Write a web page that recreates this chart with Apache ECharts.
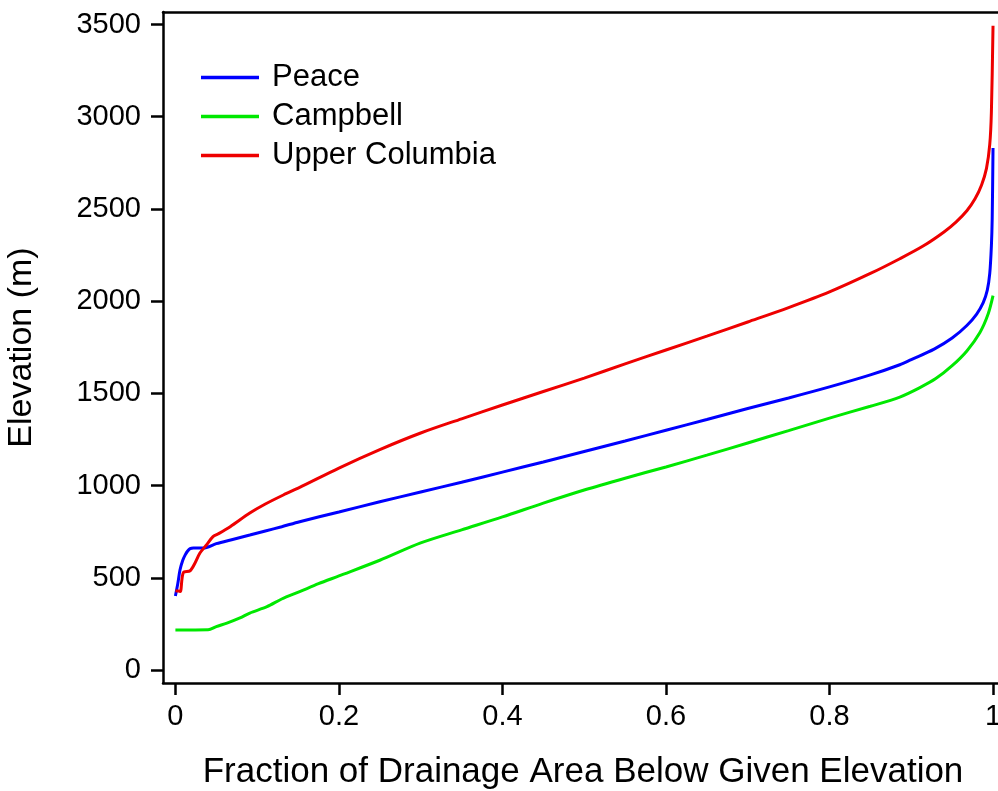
<!DOCTYPE html>
<html>
<head>
<meta charset="utf-8">
<script src="https://cdn.jsdelivr.net/npm/echarts@6/dist/echarts.min.js"></script>
<style>
html,body{margin:0;padding:0;background:#fff;}
#chart{width:998px;height:791px;}
</style>
</head>
<body>
<div id="chart"></div>
<script>
// Tick labels
const xTicks = [0, 0.2, 0.4, 0.6, 0.8, 1];
const yTicks = [0, 500, 1000, 1500, 2000, 2500, 3000, 3500];

// Series names
const seriesNames = ['Peace', 'Campbell', 'Upper Columbia'];

// Peace (blue): fraction / elevation
const peaceX = [0, 0.003, 0.0056, 0.009, 0.012, 0.015, 0.018, 0.022, 0.034, 0.05, 0.07, 0.091, 0.11, 0.13, 0.152, 0.2, 0.25, 0.3, 0.35, 0.4, 0.45, 0.5, 0.55, 0.6, 0.65, 0.7, 0.75, 0.8, 0.85, 0.886, 0.9, 0.928, 0.95, 0.968, 0.98, 0.988, 0.993, 0.996, 0.998, 0.999, 1.0];
const peaceY = [401, 470, 542, 595, 624, 645, 658, 661, 661, 685, 708, 732, 754, 777, 804, 857, 912, 965, 1018, 1073, 1128, 1185, 1242, 1300, 1358, 1418, 1475, 1535, 1600, 1655, 1683, 1740, 1800, 1868, 1930, 1992, 2060, 2150, 2300, 2450, 2830];

// Campbell (green)
const campbellX = [0, 0.04, 0.05, 0.063, 0.079, 0.091, 0.112, 0.13, 0.152, 0.175, 0.2, 0.25, 0.3, 0.35, 0.4, 0.45, 0.5, 0.55, 0.6, 0.65, 0.7, 0.75, 0.8, 0.85, 0.886, 0.91, 0.93, 0.95, 0.968, 0.984, 0.994, 1.0];
const campbellY = [217, 218, 235, 254, 282, 309, 343, 385, 425, 468, 510, 595, 689, 760, 830, 905, 976, 1040, 1101, 1165, 1231, 1298, 1366, 1430, 1480, 1530, 1580, 1650, 1730, 1830, 1930, 2030];

// Upper Columbia (red)
const columbiaX = [0, 0.004, 0.006, 0.0097, 0.018, 0.024, 0.030, 0.038, 0.046, 0.052, 0.067, 0.091, 0.11, 0.132, 0.152, 0.2, 0.25, 0.3, 0.35, 0.4, 0.45, 0.5, 0.55, 0.6, 0.65, 0.7, 0.75, 0.8, 0.85, 0.886, 0.915, 0.94, 0.955, 0.968, 0.978, 0.986, 0.992, 0.996, 0.998, 1.0];
const columbiaY = [430, 428, 425, 528, 538, 580, 634, 678, 723, 737, 777, 851, 900, 949, 990, 1095, 1195, 1285, 1362, 1437, 1510, 1583, 1660, 1735, 1810, 1887, 1965, 2050, 2150, 2230, 2300, 2375, 2430, 2490, 2555, 2630, 2720, 2850, 3026, 3493];

const colors = ['#0000ff', '#00e800', '#ee0000'];
const FONT = '"Liberation Sans", Arial, Helvetica, sans-serif';

function zip(xs, ys) { return xs.map((x, i) => [x, ys[i]]); }

const chart = echarts.init(document.getElementById('chart'), null, {renderer: 'canvas'});

const lineSeries = (name, data, color) => ({
  name: name,
  type: 'line',
  data: data,
  symbol: 'none',
  smooth: 0.3,
  lineStyle: {color: color, width: 3},
  itemStyle: {color: color},
  animation: false
});

const X_MIN = -0.01517, X_MAX = 1.0122;

chart.setOption({
  animation: false,
  backgroundColor: '#fff',
  textStyle: {fontFamily: FONT},
  grid: {left: 163, top: 12, width: 840, height: 671, show: false, outerBoundsMode: 'none', containLabel: false},
  legend: {
    orient: 'vertical',
    left: 196, top: 57,
    itemWidth: 58, itemHeight: 14, itemGap: 8,
    icon: 'path://M0,0 L100,0 L100,6 L0,6 Z',
    textStyle: {fontSize: 31, color: '#000', fontFamily: FONT, lineHeight: 30, padding: [0, 0, 0, 8]},
    data: seriesNames
  },
  xAxis: [{
    type: 'value',
    min: X_MIN, max: X_MAX,
    name: 'Fraction of Drainage Area Below Given Elevation',
    nameLocation: 'middle', nameGap: 72,
    nameTextStyle: {fontSize: 35, color: '#000', fontFamily: FONT},
    axisLine: {show: true, onZero: false, lineStyle: {color: '#000', width: 2.5}},
    axisTick: {show: true, length: 12, inside: false, lineStyle: {color: '#000', width: 2.5}, customValues: xTicks},
    axisLabel: {fontSize: 29, color: '#000', margin: 19, fontFamily: FONT, customValues: xTicks, formatter: v => String(v)},
    splitLine: {show: false}
  }, {
    type: 'value',
    position: 'top',
    min: X_MIN, max: X_MAX,
    axisLine: {show: true, onZero: false, lineStyle: {color: '#000', width: 2.5}},
    axisTick: {show: false},
    axisLabel: {show: false},
    splitLine: {show: false}
  }],
  yAxis: {
    type: 'value',
    min: -70.5, max: 3567.8,
    name: 'Elevation (m)',
    nameLocation: 'middle', nameGap: 124, nameRotate: 90,
    nameTextStyle: {fontSize: 34, color: '#000', fontFamily: FONT},
    axisLine: {show: true, onZero: false, lineStyle: {color: '#000', width: 2.5}},
    axisTick: {show: true, length: 12, inside: false, lineStyle: {color: '#000', width: 2.5}, customValues: yTicks},
    axisLabel: {fontSize: 29, color: '#000', margin: 22, fontFamily: FONT, customValues: yTicks, formatter: v => String(v)},
    splitLine: {show: false}
  },
  series: [
    lineSeries(seriesNames[0], zip(peaceX, peaceY), colors[0]),
    lineSeries(seriesNames[1], zip(campbellX, campbellY), colors[1]),
    lineSeries(seriesNames[2], zip(columbiaX, columbiaY), colors[2])
  ]
});
</script>
</body>
</html>
